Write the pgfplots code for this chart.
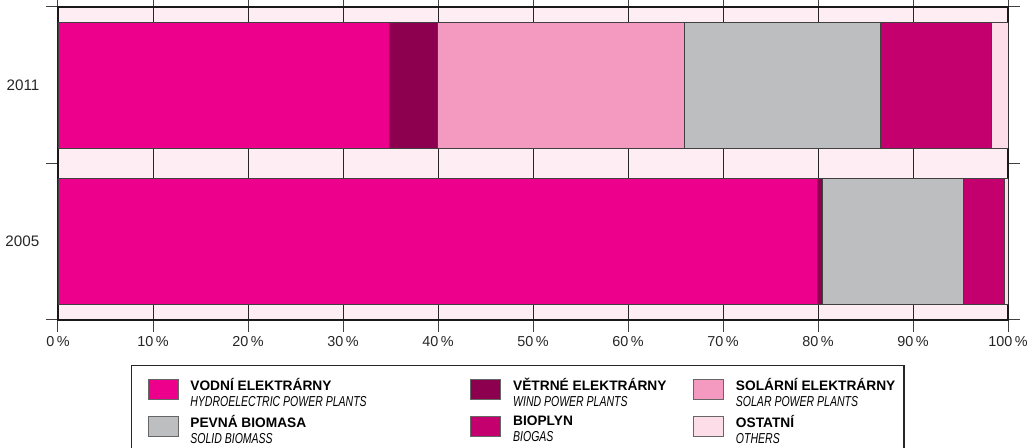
\documentclass[border=0pt]{standalone}
\usepackage{fontspec}
\setmainfont{Liberation Sans}
\newfontfamily\narrowfont{Liberation Sans}[FakeStretch=0.73]
\usepackage{pgfplots}
\pgfplotsset{compat=1.18}

\definecolor{hydro}{HTML}{EC008C}
\definecolor{wind}{HTML}{8C004F}
\definecolor{solar}{HTML}{F49AC1}
\definecolor{biomass}{HTML}{BCBEC0}
\definecolor{biogas}{HTML}{C4006F}
\definecolor{others}{HTML}{FDDDE8}
\definecolor{plotbg}{HTML}{FEEEF4}

% legend text: bold Czech line, narrow italic English line
\newcommand\lgtext[3]{\raisebox{2.2pt}{\parbox[c]{#3}{\raggedright
  \fontsize{10.3}{12}\selectfont\mbox{\textbf{#1}}\\
  \mbox{\fontsize{10.8}{12}\narrowfont\itshape #2}}}}

\begin{document}
\begin{tikzpicture}
\begin{axis}[
  name=ax,
  scale only axis,
  width=712.5pt, height=234.75pt,
  xbar stacked,
  bar width=0.805,
  xmin=0, xmax=100, ymin=0, ymax=2,
  axis background/.style={fill=plotbg},
  axis line style={black!90, line width=1.3pt},
  tick align=outside,
  major tick length=9pt,
  tick style={black!75, line width=0.75pt},
  xtick={0,10,...,100},
  xticklabel={\pgfmathprintnumber{\tick}\,\%},
  /pgf/number format/assume math mode=true,
  xticklabel style={font=\fontsize{10.8}{12}\selectfont, text=black!85},
  xmajorgrids,
  grid style={black!85, line width=0.75pt},
  ytick={0,1,2},
  yticklabels={},
  extra y ticks={0.5,1.5},
  extra y tick labels={2005,2011},
  extra y tick style={major tick length=0pt,
    yticklabel style={font=\fontsize{11.4}{13}\selectfont, text=black!85, xshift=-10.5pt}},
  every axis plot/.append style={draw=black!75, line width=0.6pt,
    legend image code/.code={%
      \draw[##1, draw=black!60, line width=0.6pt] (0pt,-7.5pt) rectangle (22.5pt,7.5pt);
      \path[draw=none, fill=none] (0pt,-7.5pt) -- (0pt,-12pt);}},
  legend columns=3,
  legend cell align=left,
  legend style={at={(axis description cs:0.0768,-0.1438)}, anchor=north west,
    draw=black!85, line width=0.9pt, fill=white,
    inner xsep=12pt, inner ysep=9.5pt, row sep=7.5pt,
    /tikz/every odd column/.append style={column sep=9pt},
    nodes={inner sep=0pt}},
]
\addplot[fill=hydro]   coordinates {(79.9,0.5) (34.9,1.5)};
\addlegendentry{\lgtext{VODNÍ ELEKTRÁRNY}{HYDROELECTRIC POWER PLANTS}{210pt}}
\addplot[fill=wind]    coordinates {(0.6,0.5) (5.0,1.5)};
\addlegendentry{\lgtext{VĚTRNÉ ELEKTRÁRNY}{WIND POWER PLANTS}{135pt}}
\addplot[fill=solar]   coordinates {(0,0.5) (26.0,1.5)};
\addlegendentry{\lgtext{SOLÁRNÍ ELEKTRÁRNY}{SOLAR POWER PLANTS}{114pt}}
\addplot[fill=biomass] coordinates {(14.8,0.5) (20.7,1.5)};
\addlegendentry{\lgtext{PEVNÁ BIOMASA}{SOLID BIOMASS}{210pt}}
\addplot[fill=biogas]  coordinates {(4.3,0.5) (11.6,1.5)};
\addlegendentry{\lgtext{BIOPLYN}{BIOGAS}{135pt}}
\addplot[fill=others]  coordinates {(0.4,0.5) (1.8,1.5)};
\addlegendentry{\lgtext{OSTATNÍ}{OTHERS}{114pt}}
\end{axis}
\pgfresetboundingbox
\path[use as bounding box] ([shift={(-43.5pt,-96pt)}]ax.south west) rectangle ([shift={(732pt,240pt)}]ax.south west);
\end{tikzpicture}
\end{document}
